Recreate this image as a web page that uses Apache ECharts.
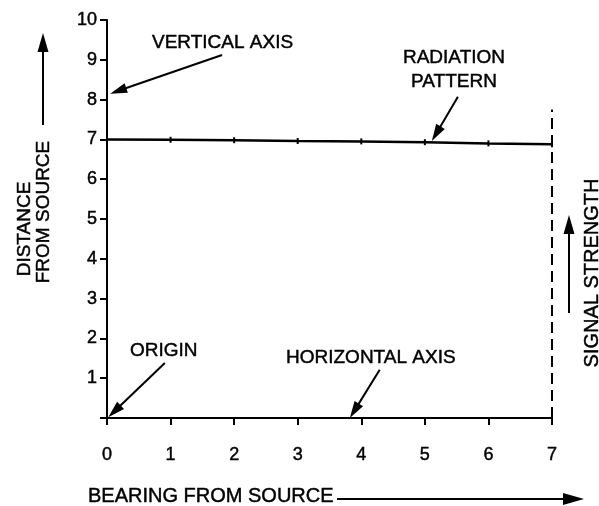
<!DOCTYPE html>
<html>
<head>
<meta charset="utf-8">
<script src="https://cdn.jsdelivr.net/npm/echarts@6/dist/echarts.min.js"></script>
<style>
html,body{margin:0;padding:0;background:#fff;}
#chart{width:599px;height:506px;}
</style>
</head>
<body>
<div id="chart"></div>
<script>
// ---- data ----
const bearings = [0, 1, 2, 3, 4, 5, 6, 7];
const radiation = [7.0, 6.99, 6.98, 6.96, 6.95, 6.93, 6.9, 6.88];
const signalLineX = [7, 7];
const signalLineY = [0, 7.75];
const xTickValues = [0, 1, 2, 3, 4, 5, 6, 7];
const yTickValues = [1, 2, 3, 4, 5, 6, 7, 8, 9, 10];
// annotation arrows: [tailX, tailY, headX, headY] in data units
const arrowVertical = [1.81, 9.12, 0.05, 8.15];
const arrowRadiation = [5.52, 8.07, 5.11, 6.96];
const arrowOrigin = [0.91, 1.38, 0.02, 0.02];
const arrowHorizontal = [4.29, 1.21, 3.82, 0.0];

const INK = '#000';
const FONT = '"Liberation Sans", Arial, Helvetica, sans-serif';

const chart = echarts.init(document.getElementById('chart'), null, {renderer: 'canvas'});

function arrowPx(p1, p2, headLen, headHalf) {
  const dx = p2[0] - p1[0], dy = p2[1] - p1[1];
  const len = Math.sqrt(dx * dx + dy * dy);
  const ux = dx / len, uy = dy / len;
  const bx = p2[0] - ux * headLen, by = p2[1] - uy * headLen;
  const nx = -uy, ny = ux;
  return {
    type: 'group',
    children: [
      {type: 'line', shape: {x1: p1[0], y1: p1[1], x2: bx + ux * 3, y2: by + uy * 3}, style: {stroke: INK, lineWidth: 2}},
      {type: 'polygon', shape: {points: [[p2[0], p2[1]], [bx + nx * headHalf, by + ny * headHalf], [bx - nx * headHalf, by - ny * headHalf]]}, style: {fill: INK}}
    ]
  };
}

function txt(text, x, y, opts) {
  return {
    type: 'text',
    x: x, y: y,
    style: Object.assign({
      text: text,
      fill: INK,
      stroke: INK,
      lineWidth: 0.45,
      font: '19px ' + FONT,
      align: 'left',
      verticalAlign: 'middle'
    }, opts || {})
  };
}

const option = {
  animation: false,
  backgroundColor: '#fff',
  grid: {left: 107, right: 47, top: 20, bottom: 88, containLabel: false},
  xAxis: {
    type: 'value', min: 0, max: 7, interval: 1,
    axisLine: {show: true, lineStyle: {color: INK, width: 2}},
    axisTick: {show: true, length: 7, lineStyle: {color: INK, width: 2}},
    axisLabel: {
      color: INK, fontSize: 18, fontFamily: FONT, margin: 28,
      textBorderColor: INK, textBorderWidth: 0.45,
      formatter: v => xTickValues.indexOf(v) >= 0 ? String(v) : ''
    },
    splitLine: {show: false}
  },
  yAxis: {
    type: 'value', min: 0, max: 10, interval: 1,
    axisLine: {show: true, lineStyle: {color: INK, width: 2}},
    axisTick: {show: true, length: 7, lineStyle: {color: INK, width: 2}},
    axisLabel: {
      color: INK, fontSize: 18, fontFamily: FONT, margin: 10,
      textBorderColor: INK, textBorderWidth: 0.45,
      formatter: v => yTickValues.indexOf(v) >= 0 ? String(v) : ''
    },
    splitLine: {show: false}
  },
  series: [
    {
      name: 'Radiation pattern',
      type: 'line',
      data: bearings.map((b, i) => [b, radiation[i]]),
      lineStyle: {color: INK, width: 2.5},
      symbol: 'rect',
      symbolSize: [2, 6],
      itemStyle: {color: INK},
      clip: false,
      z: 3
    },
    {
      name: 'Signal strength',
      type: 'line',
      data: signalLineX.map((x, i) => [x, signalLineY[i]]),
      lineStyle: {color: INK, width: 2, type: [11, 6]},
      symbol: 'none',
      clip: false
    }
  ],
  graphic: [
    // left axis title
    Object.assign(txt('DISTANCE', 25, 229, {align: 'center'}), {rotation: Math.PI / 2}),
    Object.assign(txt('FROM SOURCE', 44, 212, {align: 'center'}), {rotation: Math.PI / 2}),
    arrowPx([43, 125], [43, 33], 19, 5.5),
    // right title
    Object.assign(txt('SIGNAL STRENGTH', 592, 273, {align: 'center', font: '20px ' + FONT}), {rotation: Math.PI / 2}),
    arrowPx([569, 313], [569, 215], 19, 5.5),
    // bottom title
    txt('BEARING FROM SOURCE', 88, 496, {font: '20px ' + FONT}),
    arrowPx([337, 499], [584, 499], 21, 6),
    // annotations text
    txt('VERTICAL AXIS', 152, 43),
    txt('RADIATION', 454, 58, {align: 'center'}),
    txt('PATTERN', 454, 82, {align: 'center'}),
    txt('ORIGIN', 130, 351),
    txt('HORIZONTAL AXIS', 286, 358)
  ]
};

chart.setOption(option);

// annotation arrows placed through the chart's own scales
const toPx = (x, y) => chart.convertToPixel({gridIndex: 0}, [x, y]);
const annotationArrows = [arrowVertical, arrowRadiation, arrowOrigin, arrowHorizontal].map(a =>
  arrowPx(toPx(a[0], a[1]), toPx(a[2], a[3]), 17, 5)
);
chart.setOption({graphic: option.graphic.concat(annotationArrows)});
</script>
</body>
</html>
